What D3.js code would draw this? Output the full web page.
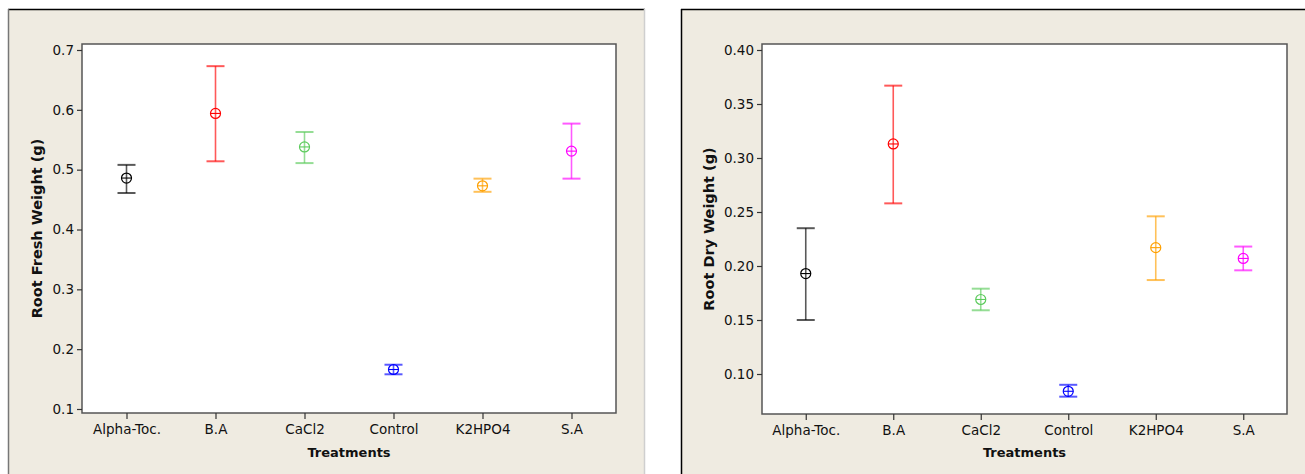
<!DOCTYPE html>
<html>
<head>
<meta charset="utf-8">
<script src="https://cdnjs.cloudflare.com/ajax/libs/d3/7.8.5/d3.min.js"></script>
<style>
  html, body { margin: 0; padding: 0; background: #ffffff; }
  svg { display: block; }
  text { font-family: "DejaVu Sans", sans-serif; }
</style>
</head>
<body>
<svg id="chart" width="1305" height="474"></svg>
<script>
// ---- Data ----
const categories = ["Alpha-Toc.", "B.A", "CaCl2", "Control", "K2HPO4", "S.A"];
const colors = ["#000000", "#FF0000", "#5CCB5C", "#0000FF", "#FFA000", "#FF00FF"];

const freshMean  = [0.486, 0.594, 0.538, 0.166, 0.473, 0.531];
const freshLower = [0.461, 0.514, 0.511, 0.158, 0.463, 0.485];
const freshUpper = [0.508, 0.673, 0.563, 0.174, 0.485, 0.577];
const freshTicks = [0.1, 0.2, 0.3, 0.4, 0.5, 0.6, 0.7];

const dryMean  = [0.193, 0.313, 0.169, 0.084, 0.217, 0.207];
const dryLower = [0.150, 0.258, 0.159, 0.079, 0.187, 0.196];
const dryUpper = [0.235, 0.367, 0.179, 0.090, 0.246, 0.218];
const dryTicks = [0.10, 0.15, 0.20, 0.25, 0.30, 0.35, 0.40];

const svg = d3.select("#chart");

function panel(cfg) {
  const g = svg.append("g");
  // panel background
  g.append("rect")
    .attr("x", cfg.px).attr("y", 9.5)
    .attr("width", cfg.pw).attr("height", 480)
    .attr("fill", "#EFEBE1");
  g.append("line").attr("x1", cfg.px).attr("x2", cfg.px + cfg.pw).attr("y1", 9.5).attr("y2", 9.5)
    .attr("stroke", "#000").attr("stroke-width", 1.5);
  g.append("line").attr("x1", cfg.px + 0.5).attr("x2", cfg.px + 0.5).attr("y1", 9).attr("y2", 474)
    .attr("stroke", cfg.leftBorder).attr("stroke-width", 1.5);
  if (cfg.rightBorder) {
    g.append("line").attr("x1", cfg.px + cfg.pw - 0.5).attr("x2", cfg.px + cfg.pw - 0.5).attr("y1", 9).attr("y2", 474)
      .attr("stroke", cfg.rightBorder).attr("stroke-width", 1.5);
  }

  const x = d3.scalePoint().domain(categories).range([cfg.left, cfg.right]).padding(0.5);
  const y = d3.scaleLinear().domain(cfg.domain).range([cfg.bottom, cfg.top]);

  // plot area
  g.append("rect")
    .attr("x", cfg.left).attr("y", cfg.top)
    .attr("width", cfg.right - cfg.left).attr("height", cfg.bottom - cfg.top)
    .attr("fill", "#ffffff").attr("stroke", "#555555").attr("stroke-width", 1.5);

  // axes
  const yAxis = g.append("g").attr("transform", `translate(${cfg.left},0)`)
    .call(d3.axisLeft(y).tickValues(cfg.ticks).tickFormat(cfg.fmt).tickSize(5).tickPadding(3));
  const xAxis = g.append("g").attr("transform", `translate(0,${cfg.bottom})`)
    .call(d3.axisBottom(x).tickSize(6).tickPadding(5));
  [yAxis, xAxis].forEach(a => {
    a.select(".domain").remove();
    a.selectAll(".tick line").attr("stroke", "#333").attr("stroke-width", 1.2);
    a.selectAll(".tick text").attr("fill", "#111")
      .style("font-family", "'DejaVu Sans', sans-serif").style("font-size", "13.5px");
  });

  // axis titles
  g.append("text")
    .attr("x", (cfg.left + cfg.right) / 2).attr("y", 457)
    .attr("text-anchor", "middle")
    .style("font-size", "13px").style("font-weight", "bold").attr("fill", "#111")
    .text("Treatments");
  g.append("text")
    .attr("transform", `translate(${cfg.ytx},${(cfg.top + cfg.bottom) / 2}) rotate(-90)`)
    .attr("text-anchor", "middle").attr("dy", "0.35em")
    .style("font-size", "14.5px").style("font-weight", "bold").attr("fill", "#111")
    .text(cfg.ytitle);

  // error bars
  const bars = g.append("g").selectAll("g").data(categories).join("g");
  const cap = 9;
  bars.append("line")
    .attr("x1", c => x(c)).attr("x2", c => x(c))
    .attr("y1", (c, i) => y(cfg.upper[i])).attr("y2", (c, i) => y(cfg.lower[i]))
    .attr("stroke", (c, i) => colors[i]).attr("stroke-opacity", 0.65).attr("stroke-width", 1.6);
  bars.append("line")
    .attr("x1", c => x(c) - cap).attr("x2", c => x(c) + cap)
    .attr("y1", (c, i) => y(cfg.upper[i])).attr("y2", (c, i) => y(cfg.upper[i]))
    .attr("stroke", (c, i) => colors[i]).attr("stroke-opacity", 0.65).attr("stroke-width", 2);
  bars.append("line")
    .attr("x1", c => x(c) - cap).attr("x2", c => x(c) + cap)
    .attr("y1", (c, i) => y(cfg.lower[i])).attr("y2", (c, i) => y(cfg.lower[i]))
    .attr("stroke", (c, i) => colors[i]).attr("stroke-opacity", 0.65).attr("stroke-width", 2);
  // circle-plus markers
  const r = 5;
  bars.append("circle")
    .attr("cx", c => x(c)).attr("cy", (c, i) => y(cfg.mean[i])).attr("r", r)
    .attr("fill", "none").attr("stroke", (c, i) => colors[i]).attr("stroke-width", 1.2);
  bars.append("line")
    .attr("x1", c => x(c) - r).attr("x2", c => x(c) + r)
    .attr("y1", (c, i) => y(cfg.mean[i])).attr("y2", (c, i) => y(cfg.mean[i]))
    .attr("stroke", (c, i) => colors[i]).attr("stroke-width", 1.1);
}

panel({
  px: 8, pw: 637, leftBorder: "#777777", rightBorder: "#cfcfcf",
  left: 82, right: 616, top: 44, bottom: 413,
  domain: [0.1 - 4 / 598, 0.7 + 6 / 598],
  ticks: freshTicks, fmt: d3.format(".1f"),
  mean: freshMean, lower: freshLower, upper: freshUpper,
  ytitle: "Root Fresh Weight (g)", ytx: 37
});

panel({
  px: 681, pw: 640, leftBorder: "#000000", rightBorder: null,
  left: 762, right: 1287, top: 44, bottom: 414,
  domain: [0.10 - 40 / 1080, 0.40 + 6 / 1080],
  ticks: dryTicks, fmt: d3.format(".2f"),
  mean: dryMean, lower: dryLower, upper: dryUpper,
  ytitle: "Root Dry Weight (g)", ytx: 709
});
</script>
</body>
</html>
